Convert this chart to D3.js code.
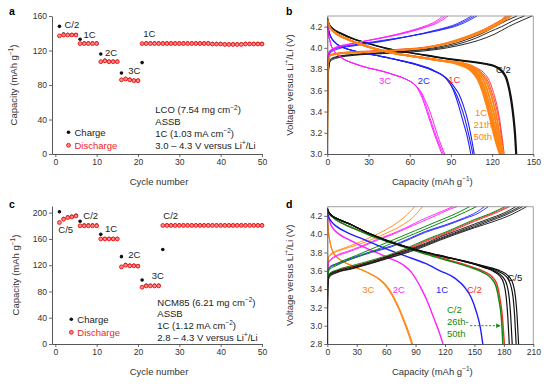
<!DOCTYPE html>
<html>
<head>
<meta charset="utf-8">
<script src="https://cdn.jsdelivr.net/npm/d3@7"></script>
<style>
  body { margin: 0; background: #fff; }
  svg { display: block; font-family: "Liberation Sans", Arial, Helvetica, sans-serif; }
</style>
</head>
<body>
<svg id="chart" width="553" height="389"></svg>
<script>
// ---- panel a / c : rate capability (capacity per cycle) ----
const cycleNumbers = d3.range(1, 51);

const lcoCharge = [148, 139, 138.5, 138.5, 138.5, 133, 128.5, 128.5, 128.5, 128.5,
  116, 108.5, 107.5, 107.5, 107.5, 94, 87.5, 86.5, 85.5, 85.5,
  106, 128.5, 128.5, 128.5, 128.5, 128.5, 128.5, 128.5, 128.5, 128.5,
  128.5, 128.5, 128.5, 128.5, 128.5, 128.5, 128.5, 128, 128, 128,
  127.5, 127.5, 127.5, 127.5, 127.5, 128, 128, 128, 128, 128];
const lcoDischarge = [137, 138, 138, 138, 138, 128, 128, 128, 128, 128,
  107, 108, 107, 107, 107, 86, 87, 86, 85, 85,
  128, 128, 128, 128, 128, 128, 128, 128, 128, 128,
  128, 128, 128, 128, 128, 128, 128, 127.5, 127.5, 127.5,
  127, 127, 127, 127, 127, 127.5, 127.5, 127.5, 127.5, 127.5];

const ncmCharge = [201.5, 191, 193.5, 194.5, 196, 187, 181, 181, 181, 181,
  167, 160.5, 160.5, 160.5, 160.5, 133, 121, 120, 120, 119,
  97.5, 89.5, 89.5, 89.5, 89.5, 144, 181, 181, 181, 181,
  181, 181, 181, 181, 181, 181, 181, 181, 181, 181,
  181, 181, 181, 181, 181, 181, 181, 181, 181, 181];
const ncmDischarge = [185, 190, 192.5, 193.5, 195, 180, 180, 180, 180, 180,
  160, 160, 160, 160, 160, 117.5, 120, 119, 119, 118.5,
  86.5, 88.5, 88.5, 88.5, 88.5, 180.5, 180.5, 180.5, 180.5, 180.5,
  180.5, 180.5, 180.5, 180.5, 180.5, 180.5, 180.5, 180.5, 180.5, 180.5,
  180.5, 180.5, 180.5, 180.5, 180.5, 180.5, 180.5, 180.5, 180.5, 180.5];

// ---- panel b : LCO voltage profiles, [capacity, voltage] ----
const lcoHalfCCharge = [
  [[0,3.0],[0.5,3.7],[2,3.87],[6,3.9],[20,3.93],[40,3.945],[60,3.96],[80,3.985],[95,4.02],[110,4.07],[122,4.13],[132,4.2],[142,4.26],[149,4.3]],
  [[0,3.0],[0.5,3.72],[2,3.88],[6,3.91],[20,3.935],[40,3.95],[60,3.97],[80,3.995],[95,4.035],[108,4.09],[118,4.15],[127,4.2],[136,4.26],[143.5,4.3]],
  [[0,3.0],[0.5,3.73],[2,3.89],[6,3.915],[20,3.94],[40,3.955],[60,3.975],[80,4.005],[95,4.05],[106,4.1],[115,4.15],[122,4.2],[131,4.26],[138,4.3]]
];
const lcoHalfCDischarge = [
  [[0,4.28],[1,4.23],[4,4.18],[10,4.135],[20,4.08],[30,4.04],[45,3.99],[60,3.955],[75,3.925],[90,3.895],[105,3.872],[116,3.85],[122,3.83],[125.5,3.805],[128.5,3.765],[130.8,3.71],[132.6,3.62],[134.3,3.5],[135.8,3.35],[137,3.18],[137.8,3.0]],
  [[0,4.28],[1,4.23],[4,4.18],[10,4.135],[20,4.08],[30,4.04],[45,3.99],[60,3.955],[75,3.92],[90,3.89],[105,3.867],[116,3.845],[121.5,3.825],[125,3.8],[128,3.76],[130.3,3.705],[132.1,3.615],[133.8,3.495],[135.3,3.345],[136.5,3.175],[137.3,3.0]]
];
const lco1CCharge = [
  [[0,3.0],[0.4,3.8],[2,3.93],[10,3.95],[30,3.965],[50,3.98],[70,4.0],[85,4.035],[100,4.09],[112,4.15],[122,4.21],[129,4.26],[134,4.3]],
  [[0,3.0],[0.4,3.8],[2,3.935],[10,3.955],[30,3.97],[50,3.985],[70,4.005],[85,4.04],[100,4.095],[111,4.155],[120,4.215],[127,4.265],[132,4.3]]
];
const lco1CDischarge = [
  [[0,4.27],[1,4.21],[5,4.15],[15,4.08],[30,4.01],[50,3.95],[70,3.91],[85,3.88],[99,3.855],[108,3.815],[114,3.765],[118,3.69],[121,3.58],[123.5,3.46],[125.8,3.3],[127.5,3.14],[128.8,3.0]],
  [[0,4.27],[1,4.21],[5,4.15],[15,4.08],[30,4.01],[50,3.95],[70,3.91],[85,3.88],[98,3.85],[107,3.81],[113,3.76],[117,3.685],[120,3.575],[122.8,3.45],[125.2,3.3],[127,3.14],[128.4,3.0]]
];
const lco2CCharge = [
  [[0,3.0],[0.4,3.85],[2,3.95],[8,3.99],[20,4.02],[40,4.06],[60,4.11],[80,4.17],[95,4.23],[105,4.3]],
  [[0,3.0],[0.4,3.86],[2,3.96],[8,4.0],[20,4.025],[40,4.065],[60,4.11],[80,4.165],[96,4.225],[107,4.3]],
  [[0,3.0],[0.4,3.87],[2,3.97],[8,4.005],[20,4.03],[40,4.07],[60,4.11],[80,4.16],[97,4.22],[109,4.3]]
];
const lco2CDischarge = [
  [[0,4.28],[0.5,4.2],[2,4.12],[5,4.06],[12,4.0],[20,3.97],[35,3.93],[50,3.89],[65,3.84],[78,3.78],[86,3.72],[90,3.65],[93,3.56],[96,3.44],[99,3.3],[102,3.16],[104.5,3.0]],
  [[0,4.28],[0.5,4.2],[2,4.12],[5,4.06],[12,4.0],[20,3.97],[35,3.93],[50,3.89],[65,3.84],[78,3.78],[86,3.72],[90,3.65],[94,3.56],[97,3.46],[100,3.34],[103,3.18],[106,3.0]],
  [[0,4.28],[0.5,4.2],[2,4.12],[5,4.06],[12,4.0],[20,3.97],[35,3.93],[50,3.89],[65,3.845],[78,3.785],[88,3.7],[92,3.64],[96,3.56],[99,3.46],[102,3.33],[104.5,3.18],[107,3.0]]
];
const lco3CCharge = [
  [[0,3.0],[0.3,3.88],[1.5,3.96],[5,3.99],[15,4.03],[30,4.07],[45,4.11],[60,4.16],[72,4.21],[79,4.25],[84,4.3]],
  [[0,3.0],[0.3,3.89],[1.5,3.965],[5,3.995],[15,4.03],[30,4.07],[45,4.11],[60,4.155],[72,4.2],[80,4.245],[86,4.3]],
  [[0,3.0],[0.3,3.9],[1.5,3.97],[5,4.0],[15,4.035],[30,4.07],[45,4.105],[60,4.15],[72,4.195],[81,4.24],[88,4.3]]
];
const lco3CDischarge = [
  [[0,4.27],[0.5,4.17],[2,4.06],[5,3.97],[10,3.91],[20,3.85],[30,3.81],[40,3.78],[50,3.74],[58,3.7],[63,3.66],[66,3.61],[69,3.53],[72,3.42],[75,3.3],[79,3.15],[83.5,3.0]],
  [[0,4.27],[0.5,4.17],[2,4.06],[5,3.97],[10,3.91],[20,3.85],[30,3.81],[40,3.78],[50,3.74],[58,3.7],[63,3.66],[67,3.6],[70,3.52],[73,3.41],[76,3.29],[80,3.14],[84.5,3.0]],
  [[0,4.27],[0.5,4.17],[2,4.06],[5,3.97],[10,3.91],[20,3.85],[30,3.81],[40,3.78],[50,3.74],[58,3.7],[64,3.65],[68,3.59],[71.5,3.5],[75,3.39],[78,3.27],[81.5,3.13],[85.5,3.0]]
];
const lco1CLateCharge = [
  [[0,3.0],[0.4,3.8],[2,3.93],[10,3.95],[30,3.965],[50,3.98],[70,4.0],[85,4.04],[100,4.1],[110,4.15],[120,4.21],[127,4.265],[130,4.3]],
  [[0,3.0],[0.4,3.8],[2,3.93],[10,3.948],[30,3.962],[50,3.977],[70,3.997],[85,4.035],[100,4.09],[111,4.145],[121,4.205],[128,4.26],[132,4.3]],
  [[0,3.0],[0.4,3.8],[2,3.925],[10,3.945],[30,3.96],[50,3.975],[70,3.995],[85,4.03],[100,4.085],[112,4.14],[122,4.2],[129,4.255],[134,4.3]]
];
const lco1CLateDischarge = [
  [[0,4.27],[1,4.21],[5,4.15],[15,4.08],[30,4.01],[50,3.945],[70,3.905],[85,3.875],[96,3.84],[103,3.8],[107,3.75],[110,3.69],[113,3.59],[115.5,3.48],[118,3.36],[121,3.2],[123.5,3.08],[125.5,3.0]],
  [[0,4.27],[1,4.21],[5,4.15],[15,4.08],[30,4.01],[50,3.945],[70,3.905],[85,3.875],[97,3.845],[104,3.8],[108,3.75],[111,3.69],[114,3.59],[116.5,3.48],[119,3.36],[122,3.2],[124.5,3.08],[126.3,3.0]],
  [[0,4.27],[1,4.21],[5,4.15],[15,4.08],[30,4.01],[50,3.945],[70,3.905],[85,3.875],[98,3.85],[105,3.805],[109,3.755],[112,3.695],[115,3.6],[117.5,3.49],[120,3.37],[123,3.2],[125.5,3.08],[127,3.0]],
  [[0,4.27],[1,4.21],[5,4.15],[15,4.08],[30,4.01],[50,3.945],[70,3.905],[85,3.875],[98,3.852],[106,3.81],[110,3.76],[113.5,3.7],[116.5,3.6],[119,3.49],[121.5,3.37],[124,3.21],[126.3,3.08],[127.6,3.0]],
  [[0,4.27],[1,4.21],[5,4.15],[15,4.08],[30,4.01],[50,3.945],[70,3.905],[85,3.875],[99,3.855],[107,3.815],[111,3.77],[115,3.705],[118,3.61],[120.5,3.5],[122.8,3.38],[125,3.22],[127,3.09],[128.2,3.0]]
];

// ---- panel d : NCM85 voltage profiles, [capacity, voltage] ----
const ncmFifthCCharge = [
  [[0,2.8],[0.5,3.45],[2,3.56],[10,3.6],[25,3.64],[45,3.7],[65,3.77],[85,3.84],[100,3.9],[115,3.97],[130,4.03],[150,4.11],[165,4.17],[180,4.23],[192,4.3]],
  [[0,2.8],[0.5,3.44],[2,3.55],[10,3.59],[25,3.63],[45,3.69],[65,3.76],[85,3.83],[100,3.89],[115,3.955],[130,4.015],[150,4.095],[165,4.155],[180,4.215],[196,4.3]],
  [[0,2.8],[0.5,3.43],[2,3.54],[10,3.585],[25,3.625],[45,3.685],[65,3.75],[85,3.82],[100,3.88],[115,3.945],[130,4.005],[150,4.08],[165,4.14],[182,4.21],[199,4.3]],
  [[0,2.8],[0.5,3.42],[2,3.53],[10,3.58],[25,3.62],[45,3.68],[65,3.745],[85,3.81],[100,3.87],[115,3.935],[130,3.995],[150,4.07],[170,4.14],[187,4.21],[203,4.3]]
];
const ncmFifthCDischarge = [
  [[0,4.28],[1,4.25],[5,4.2],[12,4.16],[25,4.1],[40,4.02],[60,3.93],[80,3.86],[100,3.8],[120,3.75],[140,3.7],[160,3.635],[170,3.59],[176,3.54],[180,3.46],[182.5,3.3],[184,3.1],[185.5,2.8]],
  [[0,4.28],[1,4.25],[5,4.2],[12,4.16],[25,4.1],[40,4.02],[60,3.93],[80,3.86],[100,3.8],[120,3.75],[140,3.7],[160,3.64],[172,3.59],[179,3.53],[183,3.45],[185.5,3.3],[187,3.1],[188.5,2.8]],
  [[0,4.28],[1,4.25],[5,4.2],[12,4.16],[25,4.1],[40,4.02],[60,3.935],[80,3.865],[100,3.805],[120,3.755],[140,3.705],[160,3.645],[175,3.59],[183,3.53],[187,3.44],[189.5,3.3],[191,3.1],[192.5,2.8]],
  [[0,4.28],[1,4.25],[5,4.2],[12,4.16],[25,4.1],[40,4.02],[60,3.935],[80,3.865],[100,3.805],[120,3.755],[140,3.705],[160,3.65],[176,3.6],[185,3.54],[189.5,3.45],[192,3.3],[193.5,3.1],[195,2.8]]
];
const ncmHalfCCharge = [
  [[0,2.8],[0.5,3.47],[2,3.56],[10,3.6],[30,3.66],[50,3.72],[70,3.79],[90,3.88],[105,3.95],[120,4.01],[135,4.08],[150,4.15],[167,4.22],[184,4.3]],
  [[0,2.8],[0.5,3.47],[2,3.56],[10,3.6],[30,3.655],[50,3.715],[70,3.785],[90,3.87],[105,3.94],[120,4.0],[135,4.07],[150,4.14],[168,4.215],[186,4.3]]
];
const ncmHalfCDischarge = [
  [[0,4.28],[1,4.24],[5,4.19],[15,4.12],[30,4.05],[50,3.965],[70,3.895],[95,3.81],[120,3.73],[145,3.65],[160,3.59],[168,3.535],[173,3.45],[176,3.3],[178.5,3.1],[180.5,2.8]]
];
const ncm1CCharge = [
  [[0,2.8],[0.3,3.5],[2,3.64],[10,3.68],[25,3.74],[45,3.81],[65,3.87],[85,3.96],[100,4.03],[120,4.1],[140,4.18],[152,4.24],[160,4.3]],
  [[0,2.8],[0.3,3.5],[2,3.63],[10,3.67],[25,3.73],[45,3.8],[65,3.86],[85,3.95],[100,4.02],[120,4.09],[140,4.17],[155,4.235],[164,4.3]]
];
const ncm1CDischarge = [
  [[0,4.27],[1,4.2],[4,4.14],[10,4.08],[20,4.02],[40,3.93],[60,3.84],[80,3.76],[100,3.68],[115,3.6],[130,3.52],[140,3.42],[147,3.3],[152,3.15],[156,2.98],[158.5,2.8]]
];
const ncm2CCharge = [
  [[0,2.8],[0.3,3.55],[1.5,3.7],[8,3.76],[20,3.81],[35,3.87],[50,3.94],[65,4.0],[80,4.07],[95,4.15],[108,4.21],[119,4.26],[128,4.3]],
  [[0,2.8],[0.3,3.55],[1.5,3.69],[8,3.75],[20,3.8],[35,3.86],[50,3.93],[65,3.99],[80,4.06],[95,4.13],[110,4.2],[122,4.26],[132,4.3]]
];
const ncm2CDischarge = [
  [[0,4.27],[1,4.2],[3,4.12],[6,4.06],[12,4.0],[20,3.95],[35,3.87],[50,3.8],[65,3.73],[78,3.66],[86,3.58],[92,3.48],[97,3.38],[103,3.24],[108,3.1],[113,2.96],[118,2.8]]
];
const ncm3CCharge = [
  [[0,2.8],[0.3,3.6],[1.5,3.76],[6,3.8],[15,3.84],[30,3.9],[45,3.97],[60,4.05],[72,4.13],[82,4.22],[89,4.3]],
  [[0,2.8],[0.3,3.6],[1.5,3.75],[6,3.79],[15,3.83],[30,3.88],[45,3.94],[60,4.01],[75,4.09],[87,4.18],[97,4.3]]
];
const ncm3CDischarge = [
  [[0,4.25],[0.5,4.12],[1.5,4.0],[3,3.9],[6,3.8],[12,3.73],[22,3.67],[35,3.61],[45,3.56],[53,3.51],[60,3.44],[66,3.35],[72,3.22],[78,3.07],[83,2.93],[87,2.8]],
  [[0,4.25],[0.5,4.12],[1.5,4.0],[3,3.9],[6,3.8],[12,3.73],[22,3.67],[35,3.61],[45,3.56],[53,3.505],[60,3.43],[66,3.33],[72,3.2],[77.5,3.06],[82,2.93],[86,2.8]]
];
const ncmLateCharge = [
  [[0,2.8],[0.5,3.48],[2,3.57],[10,3.61],[30,3.67],[50,3.73],[70,3.8],[90,3.89],[105,3.96],[120,4.02],[135,4.09],[150,4.16],[165,4.22],[181,4.3]],
  [[0,2.8],[0.4,3.52],[2,3.63],[10,3.68],[30,3.77],[50,3.86],[70,3.95],[90,4.04],[110,4.13],[128,4.21],[145,4.3]],
  [[0,2.8],[0.4,3.5],[2,3.61],[10,3.66],[30,3.75],[50,3.83],[70,3.92],[90,4.01],[110,4.1],[130,4.19],[152,4.3]]
];
const ncmLateDischarge = [
  [[0,4.28],[1,4.24],[5,4.19],[15,4.12],[30,4.05],[50,3.96],[70,3.89],[95,3.8],[120,3.72],[145,3.64],[159,3.58],[167,3.52],[172,3.43],[175,3.28],[177.5,3.08],[179,2.8]]
];

const svg = d3.select("#chart");
const FONT = 9.5;

// text with superscript parts: [["Capacity (mAh g"], ["\u22121", true], [")"]]
function richText(sel, parts, fs) {
  let up = false;
  parts.forEach(p => {
    const t = sel.append("tspan").text(p[0]);
    if (p[1] && !up) { t.attr("dy", -fs * 0.38).attr("font-size", fs * 0.68); up = true; }
    else if (!p[1] && up) { t.attr("dy", fs * 0.38); up = false; }
    else if (p[1]) t.attr("font-size", fs * 0.68);
  });
  return sel;
}

function makePanel(cfg) {
  const x = d3.scaleLinear().domain(cfg.xDomain).range(cfg.xRange);
  const y = d3.scaleLinear().domain(cfg.yDomain).range(cfg.yRange);
  const g = svg.append("g");

  if (cfg.frame) {
    g.append("path")
      .attr("d", `M${cfg.xRange[0]},${cfg.yRange[1]}H${cfg.xRange[1]}V${cfg.yRange[0]}`)
      .attr("fill", "none").attr("stroke", "#777").attr("stroke-width", 0.7);
  }

  const xa = g.append("g").attr("transform", `translate(0,${cfg.yRange[0]})`)
    .call(d3.axisBottom(x).tickValues(cfg.xTicks).tickSize(3).tickSizeOuter(0).tickPadding(2));
  const ya = g.append("g").attr("transform", `translate(${cfg.xRange[0]},0)`)
    .call(d3.axisLeft(y).tickValues(cfg.yTicks).tickSize(3).tickSizeOuter(0).tickPadding(2)
      .tickFormat(cfg.yFormat || d3.format("d")));
  [xa, ya].forEach(a => {
    a.select(".domain").attr("stroke", "#444").attr("stroke-width", 0.9);
    a.selectAll(".tick line").attr("stroke", "#444").attr("stroke-width", 0.8);
    a.selectAll(".tick text").attr("font-size", 8.6).attr("fill", "#333")
      .attr("font-family", "Liberation Sans, Arial, sans-serif");
  });

  // axis titles
  const xt = g.append("text").attr("x", (cfg.xRange[0] + cfg.xRange[1]) / 2 + 2)
    .attr("y", cfg.yRange[0] + 31).attr("text-anchor", "middle")
    .attr("font-size", FONT).attr("fill", "#333");
  richText(xt, cfg.xTitle, FONT);
  const yt = g.append("text")
    .attr("transform", `translate(${cfg.yTitleX},${(cfg.yRange[0] + cfg.yRange[1]) / 2}) rotate(-90)`)
    .attr("text-anchor", "middle").attr("font-size", FONT).attr("fill", "#333");
  richText(yt, cfg.yTitle, FONT);

  g.append("text").attr("x", cfg.letterPos[0]).attr("y", cfg.letterPos[1])
    .attr("font-size", 10.5).attr("font-weight", "bold").text(cfg.letter);

  return { x, y, g };
}

function label(g, x, y, txt, color, parts) {
  const t = g.append("text").attr("x", x).attr("y", y).attr("font-size", FONT).attr("fill", color || "#222");
  if (parts) richText(t, parts, FONT); else t.text(txt);
  return t;
}

const capTitle = [["Capacity (mAh g"], ["\u22121", true], [")"]];
const voltTitle = [["Voltage versus Li"], ["+", true], ["/Li (V)"]];

// ---------------- rate panels (a, c) ----------------
function discharge(sel) {
  return sel.attr("r", 1.9).attr("fill", "#ff8c8c").attr("stroke", "#f01818").attr("stroke-width", 1);
}

function ratePanel(cfg, charge, dis, notes) {
  const p = makePanel(cfg);
  const pts = cycleNumbers.map((c, i) => ({ c, ch: charge[i], dis: dis[i] }));
  p.g.append("g").selectAll("circle").data(pts).join("circle")
    .attr("cx", d => p.x(d.c)).attr("cy", d => p.y(d.ch)).attr("r", 1.8).attr("fill", "#111");
  p.g.append("g").selectAll("circle").data(pts).join("circle")
    .attr("cx", d => p.x(d.c)).attr("cy", d => p.y(d.dis)).call(discharge);

  // legend
  const lx = cfg.xRange[0] + cfg.legend[0], ly = cfg.legend[1];
  p.g.append("circle").attr("cx", lx).attr("cy", ly).attr("r", 1.8).attr("fill", "#111");
  label(p.g, lx + 6, ly + 3.3, "Charge", "#222");
  p.g.append("circle").attr("cx", lx).attr("cy", ly + 13).call(discharge);
  label(p.g, lx + 6, ly + 16.3, "Discharge", "#ee1c25");

  notes.lines.forEach((ln, i) => label(p.g, notes.x, notes.y + i * 11.7, null, "#222", ln));
  cfg.rates.forEach(r => label(p.g, r[0], r[1], r[2], "#222"));
  return p;
}

ratePanel({
  xDomain: [-0.8, 50], xRange: [52, 262], yDomain: [0, 160], yRange: [154, 16],
  xTicks: [0, 10, 20, 30, 40, 50], yTicks: [0, 40, 80, 120, 160],
  xTitle: [["Cycle number"]], yTitle: capTitle, yTitleX: 17, letter: "a", letterPos: [9, 15],
  legend: [16.5, 132.3],
  rates: [[64.5, 27.7, "C/2"], [83.5, 38.4, "1C"], [105, 56, "2C"], [128.3, 74.4, "3C"], [143.3, 36.7, "1C"]]
}, lcoCharge, lcoDischarge, {
  x: 155.3, y: 113.4,
  lines: [
    [["LCO (7.54 mg cm"], ["\u22122", true], [")"]],
    [["ASSB"]],
    [["1C (1.03 mA cm"], ["\u22122", true], [")"]],
    [["3.0 \u2013 4.3 V versus Li"], ["+", true], ["/Li"]]
  ]
});

ratePanel({
  xDomain: [-0.8, 50], xRange: [52, 262], yDomain: [0, 210], yRange: [344, 206.1],
  xTicks: [0, 10, 20, 30, 40, 50], yTicks: [0, 40, 80, 120, 160, 200],
  xTitle: [["Cycle number"]], yTitle: capTitle, yTitleX: 19, letter: "c", letterPos: [9, 208],
  legend: [19.3, 319.3],
  rates: [[83.3, 219, "C/2"], [58.3, 233.4, "C/5"], [105, 231.7, "1C"], [128.3, 258.4, "2C"], [151.7, 279.4, "3C"], [163.3, 219, "C/2"]]
}, ncmCharge, ncmDischarge, {
  x: 157.3, y: 305.7,
  lines: [
    [["NCM85 (6.21 mg cm"], ["\u22122", true], [")"]],
    [["ASSB"]],
    [["1C (1.12 mA cm"], ["\u22122", true], [")"]],
    [["2.8 \u2013 4.3 V versus Li"], ["+", true], ["/Li"]]
  ]
});

// ---------------- voltage profile panels (b, d) ----------------
function profilePanel(cfg, groups) {
  const p = makePanel(cfg);
  const line = d3.line().x(d => p.x(d[0])).y(d => p.y(d[1])).curve(d3.curveMonotoneX);
  const clipId = "clip" + cfg.letter;
  svg.append("clipPath").attr("id", clipId).append("rect")
    .attr("x", cfg.xRange[0]).attr("y", cfg.yRange[1] - 1)
    .attr("width", cfg.xRange[1] - cfg.xRange[0] + 1).attr("height", cfg.yRange[0] - cfg.yRange[1] + 1);
  const lines = p.g.insert("g", ":first-child").attr("clip-path", `url(#${clipId})`);
  groups.forEach(gr => {
    lines.append("g").selectAll("path").data(gr.data).join("path")
      .attr("d", line).attr("fill", "none").attr("stroke", gr.color)
      .attr("stroke-width", gr.width).attr("stroke-linejoin", "round");
  });
  cfg.labels.forEach(l => label(p.g, l[0], l[1], l[2], l[3]));
  return p;
}

const BLACK = "#111", RED = "#ff2a2a", BLUE = "#1f1fff", MAGENTA = "#ff1eff", ORANGE = "#ff8412", GREEN = "#108a10";

profilePanel({
  xDomain: [0, 150], xRange: [327.3, 533.3], yDomain: [3.0, 4.3], yRange: [154, 16],
  xTicks: [0, 30, 60, 90, 120, 150], yTicks: [3.0, 3.2, 3.4, 3.6, 3.8, 4.0, 4.2],
  yFormat: d3.format(".1f"), frame: true,
  xTitle: capTitle, yTitle: voltTitle, yTitleX: 293, letter: "b", letterPos: [286, 15],
  labels: [[379, 84, "3C", MAGENTA], [417.7, 84, "2C", BLUE], [448.3, 82.7, "1C", RED], [496, 72.5, "C/2", BLACK],
    [475, 116, "1C", ORANGE], [473.5, 128, "21th-", ORANGE], [473.5, 140, "50th", ORANGE]]
}, [
  { data: lco1CCharge, color: RED, width: 0.9 },
  { data: lco1CDischarge, color: RED, width: 0.9 },
  { data: lcoHalfCCharge, color: BLACK, width: 0.9 },
  { data: lcoHalfCDischarge, color: BLACK, width: 1.5 },
  { data: lco2CCharge, color: BLUE, width: 0.9 },
  { data: lco2CDischarge, color: BLUE, width: 1.1 },
  { data: lco3CCharge, color: MAGENTA, width: 0.9 },
  { data: lco3CDischarge, color: MAGENTA, width: 1.0 },
  { data: lco1CLateCharge, color: ORANGE, width: 1.3 },
  { data: lco1CLateDischarge, color: ORANGE, width: 1.9 }
]);

const pd = profilePanel({
  xDomain: [0, 210], xRange: [327.3, 533.3], yDomain: [2.8, 4.3], yRange: [344, 206.7],
  xTicks: [0, 30, 60, 90, 120, 150, 180, 210], yTicks: [2.8, 3.0, 3.2, 3.4, 3.6, 3.8, 4.0, 4.2],
  yFormat: d3.format(".1f"), frame: true,
  xTitle: capTitle, yTitle: voltTitle, yTitleX: 293, letter: "d", letterPos: [286, 207.7],
  labels: [[362.3, 292.7, "3C", ORANGE], [392.7, 292.7, "2C", MAGENTA], [436, 292.7, "1C", BLUE], [467, 292.7, "C/2", RED],
    [507.5, 281, "C/5", BLACK], [447, 313.4, "C/2", GREEN], [447, 325, "26th-", GREEN], [447, 336.6, "50th", GREEN]]
}, [
  { data: ncm3CCharge, color: ORANGE, width: 0.9 },
  { data: ncm3CDischarge, color: ORANGE, width: 1.1 },
  { data: ncm2CCharge, color: MAGENTA, width: 0.9 },
  { data: ncm2CDischarge, color: MAGENTA, width: 1.4 },
  { data: ncm1CCharge, color: BLUE, width: 0.9 },
  { data: ncm1CDischarge, color: BLUE, width: 1.4 },
  { data: ncmHalfCCharge, color: RED, width: 0.9 },
  { data: ncmHalfCDischarge, color: RED, width: 1.4 },
  { data: ncmLateCharge, color: GREEN, width: 1.0 },
  { data: ncmLateDischarge, color: GREEN, width: 1.5 },
  { data: ncmFifthCCharge, color: BLACK, width: 0.9 },
  { data: ncmFifthCDischarge, color: BLACK, width: 1.2 }
]);

// dashed arrow pointing at the 26th-50th discharge end
svg.append("defs").append("marker").attr("id", "arr").attr("viewBox", "0 0 6 6")
  .attr("refX", 5).attr("refY", 3).attr("markerWidth", 5).attr("markerHeight", 5).attr("orient", "auto")
  .append("path").attr("d", "M0,0L6,3L0,6Z").attr("fill", GREEN);
pd.g.append("line")
  .attr("x1", pd.x(145.5)).attr("x2", pd.x(176)).attr("y1", pd.y(3.0)).attr("y2", pd.y(3.0))
  .attr("stroke", GREEN).attr("stroke-width", 0.9).attr("stroke-dasharray", "2.2,1.6")
  .attr("marker-end", "url(#arr)");
</script>
</body>
</html>
